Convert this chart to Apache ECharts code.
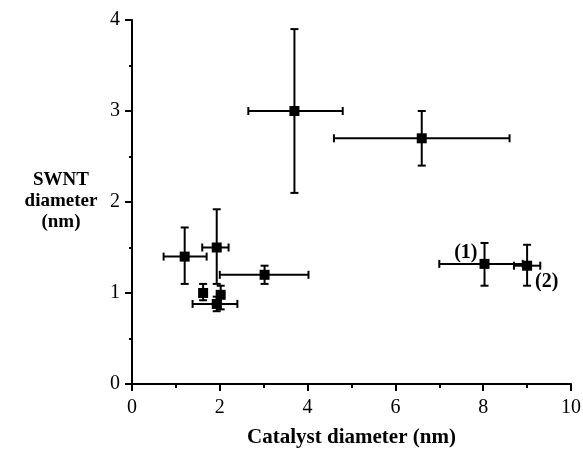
<!DOCTYPE html>
<html>
<head>
<meta charset="utf-8">
<script src="https://cdn.jsdelivr.net/npm/echarts@6/dist/echarts.min.js"></script>
<style>
  html, body { margin: 0; padding: 0; background: #fff; }
  #chart { width: 583px; height: 450px; }
</style>
</head>
<body>
<div id="chart"></div>
<script>
// catalyst diameter (x) vs SWNT diameter (y), nm
const catalystD = [3.7, 6.6, 1.2, 1.93, 3.02, 1.62, 2.02, 1.93, 8.03, 9.0];
const swntD = [3.0, 2.7, 1.4, 1.5, 1.2, 1.0, 0.98, 0.88, 1.32, 1.3];
// error bar ends (null = no bar)
const xLow = [2.65, 4.6, 0.72, 1.6, 2.0, null, null, 1.38, 7.0, 8.7];
const xHigh = [4.8, 8.6, 1.7, 2.2, 4.02, null, null, 2.4, 8.9, 9.3];
const yLow = [2.1, 2.4, 1.1, 1.1, 1.1, 0.92, 0.82, 0.8, 1.08, 1.08];
const yHigh = [3.9, 3.0, 1.72, 1.92, 1.3, 1.1, 1.08, 0.96, 1.55, 1.53];
const pointLabels = ['', '', '', '', '', '', '', '', '(1)', '(2)'];
const labelSides = [null, null, null, null, null, null, null, null, 'left', 'right'];
const labelOffsets = [null, null, null, null, null, null, null, null, [3, -11], [-2, 16]];

const serif = '"Liberation Serif", "DejaVu Serif", serif';

const errData = catalystD.map((x, i) => [x, swntD[i], xLow[i], xHigh[i], yLow[i], yHigh[i]]);

const pointData = catalystD.map((x, i) => {
  const item = { value: [x, swntD[i]] };
  if (pointLabels[i]) {
    item.label = {
      show: true,
      position: labelSides[i],
      offset: labelOffsets[i],
      formatter: pointLabels[i],
      color: '#000',
      opacity: 1,
      fontFamily: serif,
      fontWeight: 'bold',
      fontSize: 20
    };
  }
  return item;
});

const cap = 4;
function renderError(params, api) {
  const children = [];
  const style = { stroke: '#000', lineWidth: 2 };
  const xl = api.value(2), xh = api.value(3), yl = api.value(4), yh = api.value(5);
  const y = api.value(1), x = api.value(0);
  if (!isNaN(xl) && !isNaN(xh)) {
    const a = api.coord([xl, y]), b = api.coord([xh, y]);
    children.push({ type: 'line', shape: { x1: a[0], y1: a[1], x2: b[0], y2: b[1] }, style });
    children.push({ type: 'line', shape: { x1: a[0], y1: a[1] - cap, x2: a[0], y2: a[1] + cap }, style });
    children.push({ type: 'line', shape: { x1: b[0], y1: b[1] - cap, x2: b[0], y2: b[1] + cap }, style });
  }
  if (!isNaN(yl) && !isNaN(yh)) {
    const a = api.coord([x, yl]), b = api.coord([x, yh]);
    children.push({ type: 'line', shape: { x1: a[0], y1: a[1], x2: b[0], y2: b[1] }, style });
    children.push({ type: 'line', shape: { x1: a[0] - cap, y1: a[1], x2: a[0] + cap, y2: a[1] }, style });
    children.push({ type: 'line', shape: { x1: b[0] - cap, y1: b[1], x2: b[0] + cap, y2: b[1] }, style });
  }
  return { type: 'group', children };
}

const myChart = echarts.init(document.getElementById('chart'));
const option = {
  backgroundColor: '#fff',
  animation: false,
  grid: { left: 132, right: 12, top: 20, bottom: 66, outerBoundsMode: 'none' },
  xAxis: {
    type: 'value',
    min: 0,
    max: 10,
    interval: 2,
    name: 'Catalyst diameter (nm)',
    nameLocation: 'middle',
    nameGap: 43,
    nameTextStyle: { fontFamily: serif, fontWeight: 'bold', fontSize: 21, color: '#000' },
    axisLine: { show: true, onZero: false, lineStyle: { color: '#000', width: 2 } },
    axisTick: { show: true, length: 7, lineStyle: { color: '#000', width: 2 } },
    minorTick: { show: true, splitNumber: 2, length: 4, lineStyle: { color: '#000', width: 2 } },
    axisLabel: { fontFamily: serif, fontSize: 20, color: '#000', margin: 14 },
    splitLine: { show: false }
  },
  yAxis: {
    type: 'value',
    min: 0,
    max: 4,
    interval: 1,
    axisLine: { show: true, onZero: false, lineStyle: { color: '#000', width: 2 } },
    axisTick: { show: true, length: 7, lineStyle: { color: '#000', width: 2 } },
    minorTick: { show: true, splitNumber: 2, length: 3, lineStyle: { color: '#000', width: 2 } },
    axisLabel: { fontFamily: serif, fontSize: 20, color: '#000', margin: 12 },
    splitLine: { show: false }
  },
  graphic: [{
    type: 'text',
    x: 61,
    y: 201,
    style: {
      text: 'SWNT\ndiameter\n(nm)',
      fontFamily: serif,
      fontWeight: 'bold',
      fontSize: 19,
      lineHeight: 21,
      fill: '#000',
      align: 'center',
      verticalAlign: 'middle'
    }
  }],
  series: [
    {
      type: 'custom',
      renderItem: renderError,
      data: errData,
      z: 2
    },
    {
      type: 'scatter',
      symbol: 'rect',
      symbolSize: 10,
      itemStyle: { color: '#000', opacity: 1 },
      data: pointData,
      z: 3
    }
  ]
};
myChart.setOption(option);
window.addEventListener('resize', function () {
  myChart.resize();
});
</script>
</body>
</html>
